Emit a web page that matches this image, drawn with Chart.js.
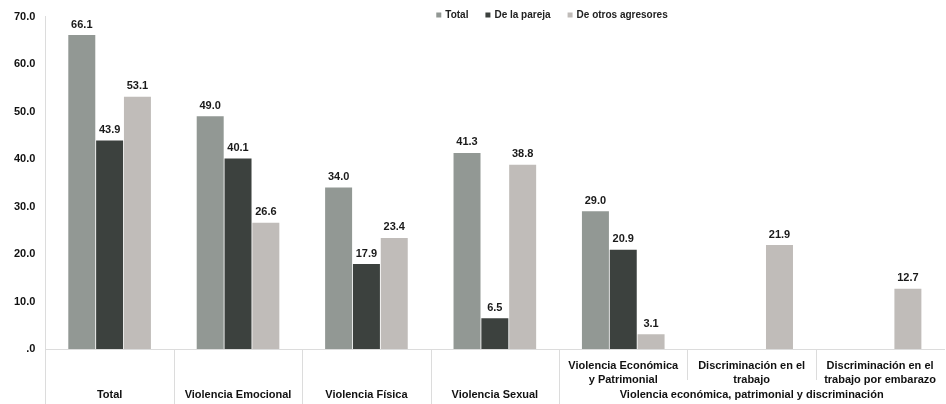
<!DOCTYPE html>
<html>
<head>
<meta charset="utf-8">
<script src="https://cdn.jsdelivr.net/npm/chart.js@4"></script>
<style>
html,body{margin:0;padding:0;background:#fff;}
#wrap{width:946px;height:404px;position:relative;}
</style>
</head>
<body>
<div id="wrap"><canvas id="c"></canvas></div>
<script>
const categories = [
  ["", "", "Total"],
  ["", "", "Violencia Emocional"],
  ["", "", "Violencia Física"],
  ["", "", "Violencia Sexual"],
  ["Violencia Económica", "y Patrimonial", ""],
  ["Discriminación en el", "trabajo", "Violencia económica, patrimonial y discriminación"],
  ["Discriminación en el", "trabajo por embarazo", ""]
];
const seriesNames = ["Total", "De la pareja", "De otros agresores"];
const totalValues = [66.1, 49.0, 34.0, 41.3, 29.0, null, null];
const parejaValues = [43.9, 40.1, 17.9, 6.5, 20.9, null, null];
const otrosValues = [53.1, 26.6, 23.4, 38.8, 3.1, 21.9, 12.7];
const yTicks = [0, 10, 20, 30, 40, 50, 60, 70];
const seriesColors = ['#929894', '#3c413e', '#c0bcb9'];

const FONT = "'Liberation Sans', Arial, sans-serif";

const valueLabels = {
  id: 'valueLabels',
  afterDatasetsDraw(chart) {
    const ctx = chart.ctx;
    ctx.save();
    ctx.font = "bold 11px " + FONT;
    ctx.fillStyle = "#1a1a1a";
    ctx.textAlign = "center";
    ctx.textBaseline = "bottom";
    chart.data.datasets.forEach((ds, i) => {
      const meta = chart.getDatasetMeta(i);
      meta.data.forEach((bar, j) => {
        const v = ds.data[j];
        if (v === null || v === undefined) return;
        ctx.fillText(v.toFixed(1), bar.x, bar.y - 5);
      });
    });
    ctx.restore();
  }
};

const customLegend = {
  id: 'customLegend',
  afterDraw(chart) {
    const ctx = chart.ctx;
    ctx.save();
    ctx.font = "bold 10px " + FONT;
    ctx.textBaseline = "middle";
    ctx.textAlign = "left";
    const box = 5, gapBox = 4, gapItem = 17;
    let total = 0;
    const widths = seriesNames.map(n => ctx.measureText(n).width);
    widths.forEach((w, i) => { total += box + gapBox + w + (i < widths.length - 1 ? gapItem : 0); });
    let x = 552 - total / 2;
    const y = 15;
    seriesNames.forEach((n, i) => {
      ctx.fillStyle = seriesColors[i];
      ctx.fillRect(x, y - box / 2, box, box);
      x += box + gapBox;
      ctx.fillStyle = '#222';
      ctx.fillText(n, x, y);
      x += widths[i] + gapItem;
    });
    ctx.restore();
  }
};

const separators = {
  id: 'separators',
  afterDraw(chart) {
    const ctx = chart.ctx;
    const x = chart.scales.x;
    const area = chart.chartArea;
    ctx.save();
    ctx.strokeStyle = "#dcdcdc";
    ctx.lineWidth = 1;
    const n = categories.length;
    for (let i = 0; i < n - 1; i++) {
      const px = Math.round((x.getPixelForValue(i) + x.getPixelForValue(i + 1)) / 2) + 0.5;
      const bottom = i < 4 ? chart.height : area.bottom + 31;
      ctx.beginPath();
      ctx.moveTo(px, area.bottom);
      ctx.lineTo(px, bottom);
      ctx.stroke();
    }
    ctx.beginPath();
    ctx.moveTo(Math.round(area.left) + 0.5, area.top);
    ctx.lineTo(Math.round(area.left) + 0.5, chart.height);
    ctx.stroke();
    ctx.restore();
  }
};

new Chart(document.getElementById('c'), {
  type: 'bar',
  data: {
    labels: categories,
    datasets: [
      { label: seriesNames[0], data: totalValues, backgroundColor: seriesColors[0] },
      { label: seriesNames[1], data: parejaValues, backgroundColor: seriesColors[1] },
      { label: seriesNames[2], data: otrosValues, backgroundColor: seriesColors[2] }
    ]
  },
  options: {
    responsive: true,
    maintainAspectRatio: false,
    animation: false,
    datasets: { bar: { categoryPercentage: 0.65, barPercentage: 0.97 } },
    layout: { padding: { top: 15, left: 4, right: 0, bottom: 0 } },
    plugins: {
      legend: { display: false },
      tooltip: { enabled: false }
    },
    scales: {
      x: {
        afterFit(scale) { scale.height = 55; },
        grid: { display: false, drawTicks: false },
        border: { display: true, color: '#dcdcdc' },
        ticks: {
          autoSkip: false, maxRotation: 0, minRotation: 0,
          padding: 10,
          color: '#111',
          font: { family: FONT, size: 11, weight: 'bold', lineHeight: 1.3 }
        }
      },
      y: {
        min: 0, max: 70,
        afterBuildTicks(scale) { scale.ticks = yTicks.map(v => ({ value: v })); },
        grid: { display: false, drawTicks: false },
        border: { display: true, color: '#dcdcdc' },
        ticks: {
          padding: 10,
          color: '#111',
          font: { family: FONT, size: 11, weight: 'bold' },
          callback: v => v === 0 ? '.0' : Number(v).toFixed(1)
        }
      }
    }
  },
  plugins: [valueLabels, customLegend, separators]
});
</script>
</body>
</html>
